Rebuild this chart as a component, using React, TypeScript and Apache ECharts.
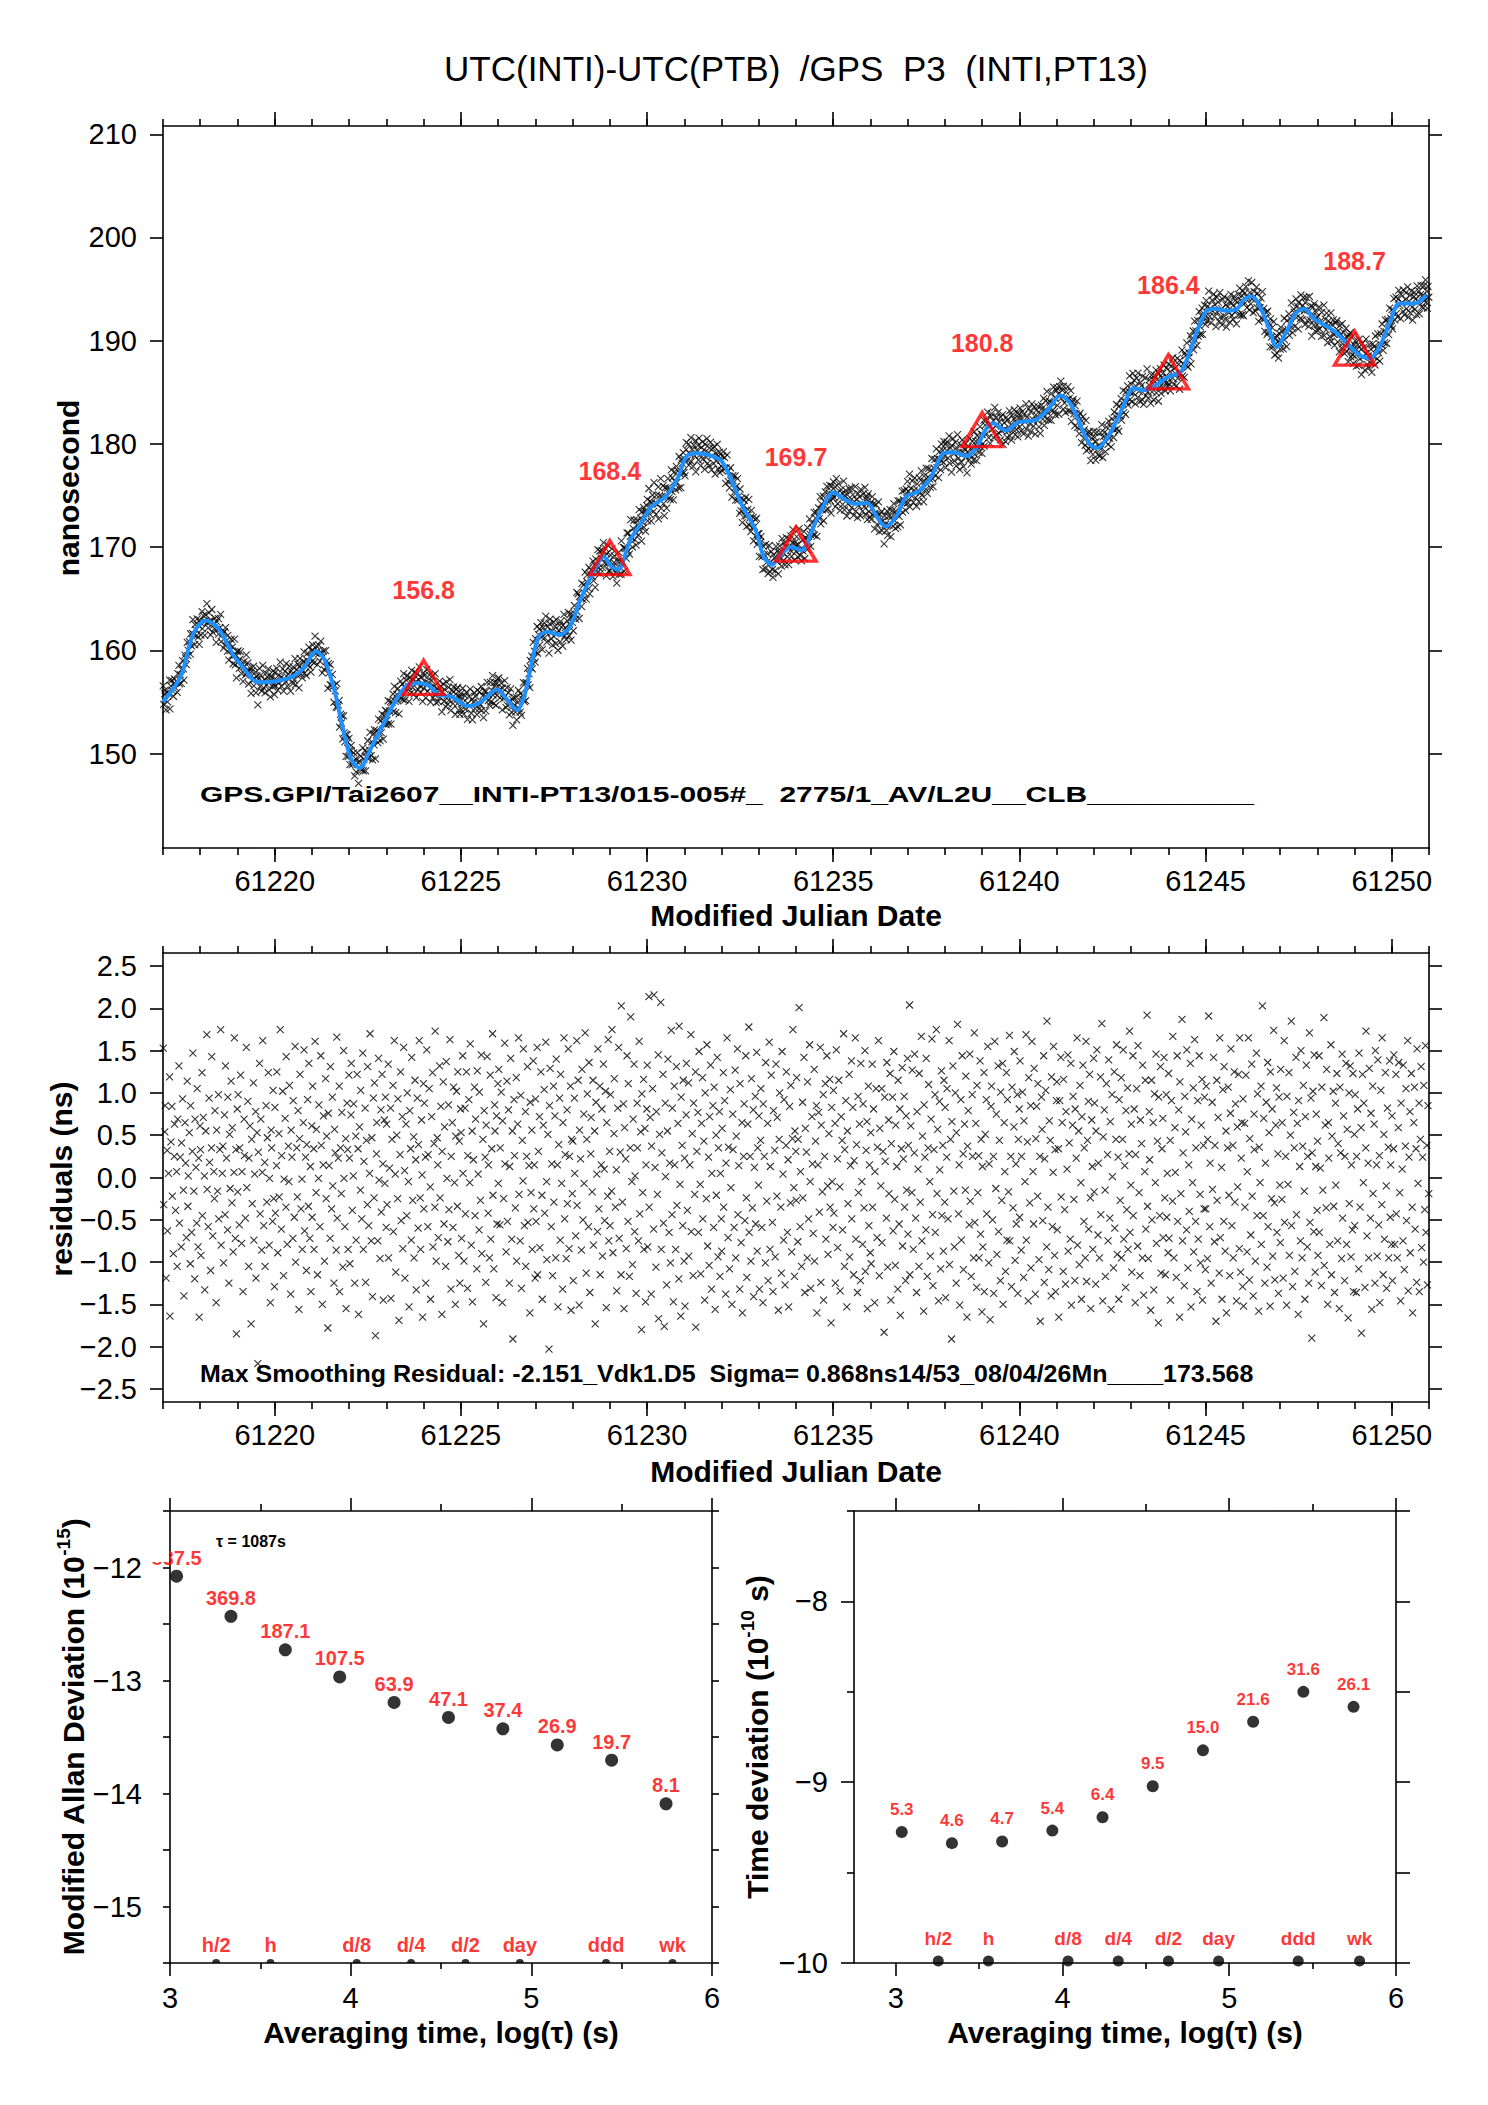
import React, { useEffect, useRef } from 'react';
import * as echarts from 'echarts';

const FONT = '"Liberation Sans", Arial, Helvetica, sans-serif';

const TITLE = 'UTC(INTI)-UTC(PTB)  /GPS  P3  (INTI,PT13)';
const TOP_NOTE = 'GPS.GPI/Tai2607__INTI-PT13/015-005#_  2775/1_AV/L2U__CLB__________';
const RES_NOTE = 'Max Smoothing Residual: -2.151_Vdk1.D5  Sigma= 0.868ns14/53_08/04/26Mn____173.568';

const MJD_START = 61217;
const MJD_END = 61251;
const mjdTicks = [61220, 61225, 61230, 61235, 61240, 61245, 61250];
const mjdMinor = [61217, 61218, 61219, 61220, 61221, 61222, 61223, 61224, 61225, 61226, 61227, 61228, 61229, 61230, 61231, 61232, 61233, 61234, 61235, 61236, 61237, 61238, 61239, 61240, 61241, 61242, 61243, 61244, 61245, 61246, 61247, 61248, 61249, 61250, 61251];
const nsTicks = [150, 160, 170, 180, 190, 200, 210];
const resTicks = [-2.5, -2, -1.5, -1, -0.5, 0, 0.5, 1, 1.5, 2, 2.5];
const logTauTicks = [3, 4, 5, 6];
const logTauMinor = [3.5, 4.5, 5.5];
const adevTicks = [-15, -14, -13, -12];
const adevMinor = [-15.5, -14.5, -13.5, -12.5, -11.5];
const tdevTicks = [-10, -9, -8];
const tdevMinor = [-9.5, -8.5, -7.5];

// smoothed curve (blue line)
const smoothMjd = [61217.0, 61217.48, 61217.81, 61218.15, 61218.49, 61218.88, 61219.16, 61219.55, 61220.05, 61220.5, 61220.78, 61221.11, 61221.34, 61221.62, 61221.84, 61222.06, 61222.29, 61222.57, 61222.84, 61223.18, 61223.52, 61223.85, 61224.13, 61224.41, 61224.75, 61225.19, 61225.53, 61225.98, 61226.25, 61226.51, 61226.7, 61226.92, 61227.09, 61227.32, 61227.65, 61227.93, 61228.21, 61228.55, 61228.83, 61229.05, 61229.22, 61229.55, 61229.89, 61230.11, 61230.5, 61230.84, 61231.06, 61231.34, 61231.68, 61232.01, 61232.3, 61232.57, 61232.91, 61233.13, 61233.35, 61233.58, 61233.86, 61234.16, 61234.44, 61234.72, 61235.0, 61235.28, 61235.56, 61235.9, 61236.18, 61236.4, 61236.68, 61236.96, 61237.29, 61237.63, 61237.96, 61238.24, 61238.58, 61238.86, 61239.08, 61239.3, 61239.64, 61239.98, 61240.42, 61240.76, 61241.1, 61241.37, 61241.65, 61241.88, 61242.1, 61242.38, 61242.66, 61242.88, 61243.05, 61243.33, 61243.67, 61244.0, 61244.34, 61244.56, 61244.78, 61245.01, 61245.23, 61245.57, 61245.85, 61246.01, 61246.24, 61246.46, 61246.69, 61246.91, 61247.19, 61247.41, 61247.64, 61247.92, 61248.2, 61248.47, 61248.81, 61249.14, 61249.42, 61249.7, 61249.98, 61250.2, 61250.6, 61250.93];
const smoothNs = [155.0, 157.5, 161.6, 162.9, 162.1, 159.6, 158.3, 156.9, 157.0, 157.5, 158.3, 159.9, 159.1, 155.9, 152.3, 149.4, 148.6, 150.4, 152.3, 154.7, 156.5, 156.8, 156.6, 155.7, 155.5, 154.6, 155.0, 156.2, 155.2, 154.2, 155.5, 159.1, 161.3, 161.8, 161.5, 162.3, 164.9, 167.5, 169.1, 168.1, 167.8, 170.7, 172.6, 173.9, 174.9, 176.8, 178.8, 179.1, 178.9, 178.3, 176.2, 173.9, 171.7, 169.1, 168.3, 169.2, 170.0, 169.7, 171.7, 173.9, 175.3, 174.7, 174.2, 174.3, 172.9, 172.0, 172.9, 174.9, 175.4, 176.8, 179.1, 179.2, 178.8, 179.7, 181.3, 182.0, 181.3, 182.1, 182.3, 183.3, 184.7, 183.9, 181.7, 180.0, 179.6, 180.7, 182.6, 184.4, 185.4, 185.2, 185.7, 186.5, 187.0, 188.8, 191.0, 192.8, 193.1, 192.9, 193.1, 193.9, 194.3, 193.3, 191.3, 189.4, 191.0, 192.6, 193.1, 192.1, 191.5, 190.9, 189.7, 188.6, 188.3, 189.6, 192.1, 193.6, 193.6, 194.4];

// 5-day markers (red triangles)
const triMjd = [61224, 61229, 61234, 61239, 61244, 61249];
const triNs = [156.8, 168.4, 169.7, 180.8, 186.4, 188.7];

// epochs of the measurements inside each day (fraction of day)
const sampleFrac = [0.006, 0.018, 0.049, 0.057, 0.083, 0.112, 0.121, 0.149, 0.177, 0.186, 0.214, 0.238, 0.251, 0.279, 0.302, 0.309, 0.337, 0.366, 0.381, 0.396, 0.428, 0.441, 0.463, 0.489, 0.497, 0.526, 0.548, 0.561, 0.592, 0.608, 0.627, 0.651, 0.668, 0.679, 0.706, 0.733, 0.741, 0.769, 0.788, 0.803, 0.829, 0.852, 0.861, 0.884, 0.906, 0.917, 0.943, 0.958, 0.972, 0.994];
// hundredths of ns below the tenth resolution, per epoch slot (ns)
const fineNs = [0.03, -0.02, 0.04, -0.05, 0.01, 0.02, -0.03, 0.05, -0.01, -0.04, 0.02, 0.04, -0.02, 0.0, -0.05, 0.03, 0.01, -0.03, 0.05, -0.01, 0.02, -0.04, 0.04, -0.02, 0.01, 0.03, -0.05, 0.0, 0.05, -0.03, -0.01, 0.04, -0.04, 0.02, 0.03, -0.02, 0.05, -0.05, 0.01, -0.03, 0.04, 0.0, -0.01, 0.02, -0.04, 0.05, -0.02, 0.03, -0.05, 0.01];

// residuals in tenths of ns, one row per day (61217 ... 61250)
const residualTenths = [
  15, -3, 5, 9, -12, 3, -6, 0, 12, -16, 4, 8, -2, -9, 3, 6, -4, 1, -11, 7, 13, -5, 2, -8, 4, 9, -1, -14, 6, 2, -7, 11, -3, 0, 5, -10, 8, -6, 3, 15, -2, -12, 7, 1, -5, 10, -8, 2, -16, 6,
  3, -9, 12, -4, 7, 0, -13, 5, 17, -1, -6, 9, 2, -11, 4, 14, -7, 1, -3, 8, -15, 6, -2, 10, -5, 3, 18, -8, 0, 4, -10, 7, -4, 13, 2, -6, 9, -12, 5, -1, 11, -3, 6, -9, 1, 16, -7, 3, -18, 8,
  -2, 10, -6, 4, 12, -8, 1, -14, 7, 3, -5, 15, -1, 9, -10, 2, 6, -17, 4, -3, 11, -7, 0, 8, -12, 5, -21.5, 3, 13, -4, 7, -9, 1, 16, -6, 2, -11, 9, -3, 5, 12, -8, 0, -15, 6, 3, -5, 10, -2, -13,
  8, -4, 1, 13, -9, 5, -2, 17, -6, 3, 10, -12, 0, 7, -3, 14, -8, 4, -1, 11, -14, 6, 2, -7, 9, -5, 16, -10, 3, -2, 8, -16, 5, 12, -4, 0, -9, 7, 15, -6, 2, -11, 4, 9, -3, 13, -7, 1, -13, 6,
  -5, 11, 3, -8, 16, -2, 6, -12, 0, 9, -6, 14, 4, -15, 2, 7, -10, 12, -3, 5, -18, 8, 1, -7, 13, -4, 10, -1, -13, 6, 3, -9, 17, -5, 2, 11, -14, 4, -2, 8, -11, 15, 0, -6, 5, -16, 9, 3, -8, 12,
  2, -10, 7, 14, -4, 0, 9, -13, 5, -7, 12, 3, -16, 6, -1, 10, -5, 15, -9, 2, 8, -12, 4, -3, 13, -6, 1, 17, -8, 5, -14, 9, -2, 11, -19, 3, 6, -7, 14, 0, -10, 8, -4, 12, 2, -15, 7, -1, 10, -6,
  6, -3, 13, -9, 1, 8, -14, 4, 11, -6, 16, 0, -11, 5, -2, 9, -17, 3, 12, -5, 7, -8, 15, 1, -12, 6, -4, 10, -1, -15, 8, 3, -7, 14, -3, 5, -10, 12, 2, -13, 9, -6, 4, 16, -2, -9, 7, 0, -16, 11,
  -4, 9, 2, -12, 15, -6, 3, 10, -1, -14, 7, 12, -8, 4, -3, 17, -10, 5, 1, -7, 13, -2, 8, -16, 3, 11, -5, 6, -11, 14, 0, -8, 9, -4, 16, -13, 2, 7, -6, 11, -1, -15, 5, 10, -3, 12, -9, 4, -12, 8,
  5, -7, 14, 1, -10, 8, -4, 12, -13, 3, 9, -1, 16, -8, 6, -15, 2, 11, -5, 7, -11, 13, 0, -6, 10, -3, 15, -9, 4, -17, 8, 2, -12, 6, 14, -4, 1, -9, 12, -7, 3, 17, -2, -11, 9, 5, -14, 7, -5, 11,
  -1, 13, -6, 4, 10, -15, 7, -3, 16, 2, -9, 11, -5, 8, -12, 1, 14, -7, 5, -19, 9, 3, -4, 12, -10, 6, 17, -2, -8, 10, -13, 4, 0, 15, -6, 8, -11, 3, 13, -5, 1, -16, 9, -2, 6, -9, 14, -4, 2, -12,
  9, -5, 15, -11, 3, 7, -8, 12, -2, -14, 6, 10, -4, 16, 0, -10, 5, -20, 8, 13, -6, 2, -12, 11, -3, 7, -9, 14, 1, -15, 4, 9, -7, 12, -1, -13, 6, 17, -5, 3, -10, 8, -3, 15, -8, 2, 11, -16, 5, -2,
  4, -12, 9, 1, -7, 16, -3, 11, -15, 6, 2, -9, 13, -5, 8, -1, 17, -11, 4, 10, -6, 14, -14, 3, 7, -2, 12, -8, 5, -17, 9, 0, -6, 15, -4, 11, -12, 2, 8, -9, 13, 1, -5, 10, -15, 6, -2, 16, -7, 3,
  -6, 10, -2, 18, -9, 5, 12, -4, 1, -13, 8, 15, -7, 3, -11, 20, -3, 9, -16, 6, 2, -8, 14, -5, 11, -12, 4, 19, -1, -10, 7, 13, -6, 0, -14, 9, 3, -7, 16, -4, 5, -18, 10, -2, 12, -9, 6, -15, 2, 8,
  13, -8, 21, -3, 7, -14, 4, 10, -6, 22, 1, -11, 8, -2, 15, -17, 5, 21, -9, 3, 12, -5, -18, 9, 0, -13, 6, 14, -7, 2, -10, 17, -4, 8, -15, 11, 1, -8, 13, -3, 6, -12, 18, -1, -16, 9, 4, -6, 12, -10,
  2, -15, 7, 14, -4, 11, -9, 1, 17, -6, 5, -12, 9, -2, 13, -18, 3, 8, -7, 15, -1, -11, 6, 12, -5, 4, -14, 10, -3, 16, -8, 2, -10, 7, 13, -13, 0, 9, -6, 11, -16, 5, -2, 14, -9, 3, 8, -12, 1, -5,
  -9, 6, 12, -3, 9, -14, 2, 16, -7, 4, -11, 10, -1, -15, 8, 3, -6, 13, -10, 5, 15, -4, 1, -13, 11, -8, 7, -16, 2, 9, -5, 14, -2, -12, 6, 18, -7, 3, -10, 12, -4, 8, -14, 1, 10, -6, 15, -9, 4, -1,
  7, -13, 4, 11, -6, -15, 9, 2, -10, 14, -3, 6, -12, 16, -8, 1, 12, -5, -14, 8, 3, -9, 13, -2, 7, -16, 5, 10, -4, -11, 15, 0, -7, 9, -13, 4, 12, -6, 2, -15, 8, -3, 11, -9, 5, 17, -1, -12, 6, 3,
  -3, 12, -8, 5, 20, -6, 1, -11, 9, -2, 14, -14, 6, 3, -9, 11, -5, 16, -1, -13, 7, 2, -7, 13, -10, 4, 9, -16, 1, 8, -4, 15, -12, 6, -2, 10, -15, 3, 11, -7, 14, -1, -9, 5, 12, -4, -17, 8, 0, -6,
  10, -4, 6, -12, 15, 2, -8, 11, -1, -13, 7, 4, -6, 17, -10, 3, 9, -15, 5, -3, 12, -9, 1, 14, -5, 8, -11, 2, 16, -7, 4, -14, 10, -2, 6, -12, 13, 0, -8, 9, -4, 15, -11, 3, 7, -16, 11, -6, 2, -9,
  5, -10, 13, -3, 8, -15, 1, 10, -7, 4, 16, -12, 6, -1, 11, -8, 3, -18, 9, 2, -5, 14, -11, 7, -2, 12, -14, 4, 9, -6, 15, -3, -10, 6, 1, -13, 11, -5, 8, -16, 3, 13, -8, 2, 10, -4, -12, 7, -1, 14,
  -7, 4, 20, -11, 6, -2, 13, -9, 3, 15, -5, -14, 8, 1, -10, 12, -3, 17, -8, 5, -16, 9, 2, -6, 14, -12, 4, 11, -1, -9, 7, 16, -4, -13, 3, 10, -7, 18, -2, 6, -15, 9, 1, -11, 13, -5, 4, -9, 12, -3,
  8, -14, 2, 11, -5, 16, -10, 4, -19, 7, 13, -2, -8, 10, -12, 5, 18, -4, 1, -15, 9, -7, 14, 3, -11, 6, -1, 12, -17, 4, 8, -6, 15, -3, -12, 10, 2, -9, 17, -5, 6, -13, 11, -2, 3, -10, 14, -7, 5, -16,
  1, -8, 12, -13, 5, 9, -4, 15, -10, 2, -17, 8, 11, -5, 3, -14, 16, -1, 7, -9, 13, -6, 4, -12, 10, -3, 14, -15, 6, 1, -11, 12, -7, 9, -2, 17, -8, 3, -13, 11, -4, 6, 15, -10, 2, -6, 10, -14, 5, 8,
  -5, 14, -9, 3, 10, -12, 7, -1, 17, -7, 4, -15, 12, -3, 9, -11, 16, 1, -6, 13, -14, 5, 8, -2, 11, -10, 3, -17, 9, 6, -5, 14, -12, 2, 10, -8, 18, -3, -11, 7, 4, -14, 12, -6, 1, 15, -9, 3, -13, 9,
  11, -6, 3, -16, 9, 14, -2, 6, -11, 12, -4, -13, 8, 1, 15, -9, 4, -7, 13, -15, 6, 10, -3, -12, 8, 2, 17, -8, 5, -10, 11, -1, -14, 7, 13, -5, 3, -9, 16, -12, 4, 9, -6, 12, -2, -16, 7, 1, -8, 14,
  -2, 9, -13, 6, 15, -7, 2, -10, 12, -4, 18, -15, 5, 8, -1, -12, 11, 3, -8, 14, -5, 7, -16, 10, 0, -11, 13, -6, 4, 16, -9, 2, -14, 9, -3, 12, -10, 5, 15, -7, 1, -13, 8, -4, 11, -9, 3, 17, -6, -1,
  6, -11, 14, -4, 8, -15, 3, 10, -8, 16, -2, -12, 7, 4, -9, 13, -14, 1, 11, -6, 19, -3, -10, 8, 2, -16, 12, -5, 6, -13, 10, -1, 15, -8, 4, -17, 9, -4, 13, -11, 3, 7, -7, 14, -2, -12, 10, -5, 1, -9,
  12, -7, 4, -14, 9, -3, 17, -10, 6, 1, -12, 14, -5, 8, -16, 11, -2, 19, -8, 3, -13, 10, 5, -6, 15, -11, 2, -4, 13, -15, 7, -1, 11, -9, 16, -5, 3, -13, 9, -7, 14, -2, -10, 6, 12, -15, 4, -4, 10, -11,
  -4, 11, -10, 5, 19, -6, 2, -13, 9, -1, 14, -8, 4, -17, 12, -3, 7, -11, 16, -7, 1, -14, 10, -5, 13, -9, 6, -16, 3, 11, -2, -12, 8, 15, -6, 4, -10, 13, -3, 9, -15, 6, -1, 12, -8, 16, -11, 2, 7, -13,
  9, -15, 6, -3, 12, -9, 1, 16, -12, 5, -7, 13, -2, -14, 8, 3, -10, 15, -5, 10, -16, 4, -1, 11, -8, 20, -4, 7, -13, 2, 9, -11, 14, -6, 5, -15, 12, -2, 8, -9, 17, -3, -12, 6, 11, -7, 3, -14, 10, -1,
  -8, 13, -3, 7, -12, 16, -5, 2, -15, 10, -1, 12, -9, 5, 19, -6, -13, 8, 3, -11, 14, -4, 6, -16, 9, 1, -7, 15, -10, 4, 11, -2, -14, 7, 13, -8, 2, -12, 17, -5, 9, -19, 3, 10, -6, 14, -11, 1, 8, -4,
  4, -9, 14, -6, 1, -13, 11, -2, 19, -10, 6, -4, 13, -15, 7, 2, -8, 16, -12, 5, 10, -3, -14, 9, -1, 12, -7, 4, -16, 11, 3, -10, 15, -5, 7, -12, 2, 14, -8, 6, -17, 10, -3, 13, -9, 1, -6, 12, -13, 5,
  -6, 10, -14, 3, 8, -11, 15, -4, 6, -18, 12, -1, 9, -13, 4, 17, -7, 2, -10, 13, -5, 8, -16, 11, -2, 6, -12, 15, 1, -9, 14, -6, 3, -15, 10, -3, 16, -11, 5, -7, 12, -1, -13, 8, 4, -10, 14, -5, 2, -8,
  7, -12, 3, 15, -8, 12, -4, -10, 6, 14, -2, -15, 9, 1, -7, 13, -11, 4, 10, -5, 16, -13, 2, 8, -9, 12, -3, -16, 6, 11, -6, 3, -12, 15, -1, 9, -14, 5, 13, -8, 2, -10, 11, -4, 16, -7, 4, -13, 9, -2,
];

// stability analysis
const tauSec = [1087, 2174, 4348, 8696, 17392, 34784, 69568, 139136, 278272, 556544];
const adevE15 = [837.5, 369.8, 187.1, 107.5, 63.9, 47.1, 37.4, 26.9, 19.7, 8.1];
const tdevE10 = [5.3, 4.6, 4.7, 5.4, 6.4, 9.5, 15.0, 21.6, 31.6, 26.1];
const scaleNames = ['h/2', 'h', 'd/8', 'd/4', 'd/2', 'day', 'ddd', 'wk'];
const scaleSec = [1800, 3600, 10800, 21600, 43200, 86400, 259200, 604800];

const XSYM = 'path://M0,0L10,10M10,0L0,10';
const SEMI = 'path://M0,10A10,10,0,0,1,20,10Z';

function minus(s: string) {
  return s.replace('-', '\u2212');
}

function smoothAt(t: number) {
  if (t <= smoothMjd[0]) return smoothNs[0];
  for (let i = 1; i < smoothMjd.length; i++) {
    if (t <= smoothMjd[i]) {
      const a = smoothMjd[i - 1];
      const b = smoothMjd[i];
      const f = (t - a) / (b - a);
      return smoothNs[i - 1] + f * (smoothNs[i] - smoothNs[i - 1]);
    }
  }
  return smoothNs[smoothNs.length - 1];
}

function epochOf(i: number) {
  const perDay = sampleFrac.length;
  return MJD_START + Math.floor(i / perDay) + sampleFrac[i % perDay];
}

function residualOf(i: number) {
  return residualTenths[i] / 10 + fineNs[i % fineNs.length];
}

type Spec = {
  grid: number;
  min: number;
  max: number;
  majors: number[];
  minors: number[];
  majLen: number;
  minLen: number;
  oppMajLen: number;
  oppMinLen: number;
  fmt: (v: number) => string;
  margin: number;
};

function makeAxes(dim: 'x' | 'y', s: Spec) {
  const pos = dim === 'x' ? ['bottom', 'top'] : ['left', 'right'];
  const base = {
    type: 'value',
    gridIndex: s.grid,
    min: s.min,
    max: s.max,
    splitLine: { show: false },
    axisPointer: { show: false },
  };
  const line = { show: true, onZero: false, lineStyle: { color: '#000', width: 1.6 } };
  const noLine = { show: false, onZero: false };
  const tick = (vals: number[], len: number) => ({
    show: vals.length > 0,
    inside: false,
    length: len,
    customValues: vals,
    lineStyle: { color: '#000', width: 1.6 },
  });
  return [
    {
      ...base,
      position: pos[0],
      axisLine: line,
      axisTick: tick(s.majors, s.majLen),
      axisLabel: {
        show: true,
        customValues: s.majors,
        formatter: s.fmt,
        fontSize: 29,
        fontFamily: FONT,
        color: '#000',
        margin: s.margin,
      },
    },
    { ...base, position: pos[0], axisLine: noLine, axisTick: tick(s.minors, s.minLen), axisLabel: { show: false } },
    { ...base, position: pos[1], axisLine: line, axisTick: tick(s.majors, s.oppMajLen), axisLabel: { show: false } },
    { ...base, position: pos[1], axisLine: noLine, axisTick: tick(s.minors, s.oppMinLen), axisLabel: { show: false } },
  ];
}

function txt(text: string, x: number, y: number, size: number, bold: boolean, extra: any = {}) {
  return {
    type: 'text',
    x,
    y,
    z: 50,
    ...extra,
    style: {
      text,
      fontSize: size,
      fontWeight: bold ? 'bold' : 'normal',
      fontFamily: FONT,
      fill: '#000',
      align: 'center',
      verticalAlign: 'middle',
      ...(extra.style || {}),
    },
  };
}

function buildOption() {
  const rawTop = residualTenths.map((_, i) => {
    const t = epochOf(i);
    return [t, smoothAt(t) + residualOf(i)];
  });
  const resPts = residualTenths.map((_, i) => [epochOf(i), residualOf(i)]);

  const intFmt = (v: number) => String(Math.round(v));
  const resFmt = (v: number) => minus(v.toFixed(1));

  const xAxis = [
    ...makeAxes('x', { grid: 0, min: MJD_START, max: MJD_END, majors: mjdTicks, minors: mjdMinor, majLen: 14, minLen: 7, oppMajLen: 14, oppMinLen: 7, fmt: intFmt, margin: 18 }),
    ...makeAxes('x', { grid: 1, min: MJD_START, max: MJD_END, majors: mjdTicks, minors: mjdMinor, majLen: 14, minLen: 7, oppMajLen: 14, oppMinLen: 7, fmt: intFmt, margin: 18 }),
    ...makeAxes('x', { grid: 2, min: 3, max: 6, majors: logTauTicks, minors: logTauMinor, majLen: 13, minLen: 6, oppMajLen: 13, oppMinLen: 7, fmt: intFmt, margin: 20 }),
    ...makeAxes('x', { grid: 3, min: 2.75, max: 6, majors: logTauTicks, minors: logTauMinor, majLen: 13, minLen: 6, oppMajLen: 13, oppMinLen: 7, fmt: intFmt, margin: 20 }),
  ];
  const yAxis = [
    ...makeAxes('y', { grid: 0, min: 140.85, max: 210.8, majors: nsTicks, minors: [], majLen: 13, minLen: 0, oppMajLen: 13, oppMinLen: 0, fmt: intFmt, margin: 26 }),
    ...makeAxes('y', { grid: 1, min: -2.655, max: 2.655, majors: resTicks, minors: [], majLen: 13, minLen: 0, oppMajLen: 13, oppMinLen: 0, fmt: resFmt, margin: 26 }),
    ...makeAxes('y', { grid: 2, min: -15.5, max: -11.5, majors: adevTicks, minors: adevMinor, majLen: 7, minLen: 7, oppMajLen: 7, oppMinLen: 7, fmt: (v) => minus(String(v)), margin: 28 }),
    ...makeAxes('y', { grid: 3, min: -10, max: -7.5, majors: tdevTicks, minors: tdevMinor, majLen: 13, minLen: 7, oppMajLen: 14, oppMinLen: 14, fmt: (v) => minus(String(v)), margin: 26 }),
  ];

  const redLabel = (size: number) => ({
    color: '#FF0000',
    fontSize: size,
    fontWeight: 'bold',
    fontFamily: FONT,
  });

  const series: any[] = [
    {
      type: 'scatter',
      xAxisIndex: 0,
      yAxisIndex: 0,
      data: rawTop,
      symbol: XSYM,
      symbolSize: 7,
      itemStyle: { color: 'none', borderColor: '#000', borderWidth: 1.1 },
      silent: true,
      z: 2,
    },
    {
      type: 'line',
      xAxisIndex: 0,
      yAxisIndex: 0,
      data: smoothMjd.map((t, i) => [t, smoothNs[i]]),
      smooth: 0.3,
      symbol: 'none',
      showSymbol: false,
      lineStyle: { color: '#1E90FF', width: 4 },
      silent: true,
      z: 3,
    },
    {
      type: 'scatter',
      xAxisIndex: 0,
      yAxisIndex: 0,
      data: triMjd.map((t, i) => [t, triNs[i]]),
      symbol: 'triangle',
      symbolSize: [40, 34],
      symbolOffset: [0, -6],
      itemStyle: { color: 'none', borderColor: '#FF0000', borderWidth: 3.5 },
      label: {
        show: true,
        position: 'inside',
        offset: [0, -87],
        formatter: (p: any) => triNs[p.dataIndex].toFixed(1),
        ...redLabel(25),
      },
      silent: true,
      z: 4,
    },
    {
      type: 'scatter',
      xAxisIndex: 4,
      yAxisIndex: 4,
      data: resPts,
      symbol: XSYM,
      symbolSize: 7,
      itemStyle: { color: 'none', borderColor: '#000', borderWidth: 1.1 },
      silent: true,
      z: 2,
    },
    {
      type: 'scatter',
      xAxisIndex: 8,
      yAxisIndex: 8,
      data: tauSec.map((t, i) => [Math.log10(t), Math.log10(adevE15[i]) - 15]),
      symbol: 'circle',
      symbolSize: 13,
      itemStyle: { color: '#000' },
      label: {
        show: true,
        position: 'top',
        distance: 2,
        formatter: (p: any) => adevE15[p.dataIndex].toFixed(1),
        ...redLabel(20),
      },
      silent: true,
      z: 3,
    },
    {
      type: 'scatter',
      xAxisIndex: 8,
      yAxisIndex: 8,
      clip: false,
      data: scaleSec.map((s) => [Math.log10(s), -15.5]),
      symbol: SEMI,
      symbolSize: [8, 4],
      symbolOffset: [0, -2],
      itemStyle: { color: '#000' },
      label: {
        show: true,
        position: 'top',
        distance: 4,
        formatter: (p: any) => scaleNames[p.dataIndex],
        ...redLabel(20),
      },
      silent: true,
      z: 3,
    },
    {
      type: 'scatter',
      xAxisIndex: 12,
      yAxisIndex: 12,
      data: tauSec.map((t, i) => [Math.log10(t), Math.log10(tdevE10[i]) - 10]),
      symbol: 'circle',
      symbolSize: 12,
      itemStyle: { color: '#000' },
      label: {
        show: true,
        position: 'top',
        distance: 8,
        formatter: (p: any) => tdevE10[p.dataIndex].toFixed(1),
        ...redLabel(17),
      },
      silent: true,
      z: 3,
    },
    {
      type: 'scatter',
      xAxisIndex: 12,
      yAxisIndex: 12,
      clip: false,
      data: scaleSec.map((s) => [Math.log10(s), -10]),
      symbol: 'circle',
      symbolSize: 11,
      symbolOffset: [0, -2],
      itemStyle: { color: '#000' },
      label: {
        show: true,
        position: 'top',
        distance: 8,
        formatter: (p: any) => scaleNames[p.dataIndex],
        ...redLabel(19),
      },
      silent: true,
      z: 3,
    },
  ];

  const supRich = {
    sup: { fontSize: 19, fontWeight: 'bold', fontFamily: FONT, fill: '#000', verticalAlign: 'top' },
  };

  const graphic = [
    txt(TITLE, 796, 68, 35, false),
    txt(TOP_NOTE, 200, 794, 30, true, { scaleY: 0.74, style: { align: 'left' } }),
    txt(RES_NOTE, 200, 1374, 25, true, { scaleY: 0.93, style: { align: 'left' } }),
    txt('nanosecond', 68, 488, 30, true, { rotation: Math.PI / 2 }),
    txt('Modified Julian Date', 796, 915, 30, true),
    txt('residuals (ns)', 61, 1179, 30, true, { rotation: Math.PI / 2 }),
    txt('Modified Julian Date', 796, 1471, 30, true),
    txt('Modified Allan Deviation (10{sup|-15})', 73, 1737, 30, true, {
      rotation: Math.PI / 2,
      style: { rich: supRich, lineHeight: 38 },
    }),
    txt('Time deviation (10{sup|-10} s)', 757, 1737, 30, true, {
      rotation: Math.PI / 2,
      style: { rich: supRich, lineHeight: 38 },
    }),
    txt('Averaging time, log(\u03c4) (s)', 441, 2032, 30, true),
    txt('Averaging time, log(\u03c4) (s)', 1125, 2032, 30, true),
    txt('\u03c4 = 1087s', 216, 1541, 16, true, { style: { align: 'left' } }),
    {
      type: 'rect',
      z: 100,
      shape: { x: 140, y: 1536, width: 29, height: 26 },
      style: { fill: '#fff' },
    },
  ];

  return {
    animation: false,
    backgroundColor: '#fff',
    grid: [
      { left: 163, top: 126, width: 1266, height: 722 },
      { left: 163, top: 953, width: 1266, height: 449 },
      { left: 170, top: 1511, width: 542, height: 452 },
      { left: 854, top: 1511, width: 542, height: 452 },
    ],
    xAxis,
    yAxis,
    series,
    graphic,
  };
}

export default function App() {
  const ref = useRef<HTMLDivElement>(null);
  useEffect(() => {
    document.body.style.margin = '0';
    const chart = echarts.init(ref.current as HTMLDivElement, undefined, { renderer: 'svg' });
    chart.setOption(buildOption() as any);
    return () => chart.dispose();
  }, []);
  return <div ref={ref} style={{ width: 1488, height: 2105, background: '#fff' }} />;
}
